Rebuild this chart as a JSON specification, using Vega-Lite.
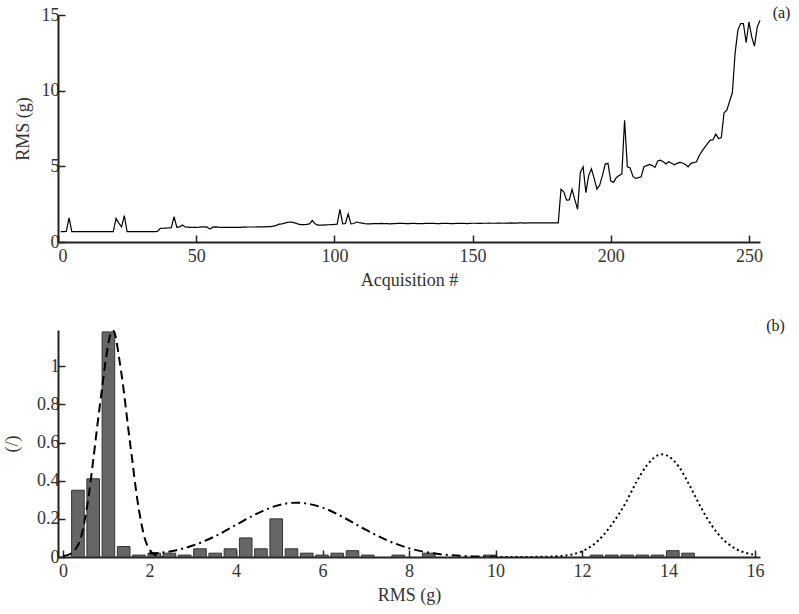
{
"$schema": "https://vega.github.io/schema/vega-lite/v6.json",
"background": "white",
"padding": {"left": 3, "top": 5, "right": 0, "bottom": 2},
"bounds": "flush",
"spacing": 88,
"config": {
  "view": {"stroke": null},
  "font": "Liberation Serif",
  "axis": {"labelFont": "Liberation Serif", "titleFont": "Liberation Serif", "labelFontSize": 18, "titleFontSize": 18, "titleFontWeight": "normal", "labelColor": "#333333", "titleColor": "#333333", "domainColor": "#222222", "domainWidth": 2, "tickColor": "#222222", "tickWidth": 1.5, "tickSize": -7, "grid": false, "labelPadding": 6, "titlePadding": 6},
  "axisX": {"labelPadding": 12}
},
"vconcat": [
{
  "width": 702, "height": 227,
  "layer": [
    {
      "data": {"values": [
{"i":1,"v":0.68},{"i":2,"v":0.68},{"i":3,"v":0.7},{"i":4,"v":1.6},{"i":5,"v":0.68},{"i":6,"v":0.68},{"i":7,"v":0.68},{"i":8,"v":0.68},{"i":9,"v":0.68},{"i":10,"v":0.68},
{"i":11,"v":0.68},{"i":12,"v":0.68},{"i":13,"v":0.68},{"i":14,"v":0.68},{"i":15,"v":0.68},{"i":16,"v":0.68},{"i":17,"v":0.68},{"i":18,"v":0.68},{"i":19,"v":0.68},{"i":20,"v":0.68},
{"i":21,"v":1.56},{"i":22,"v":1.25},{"i":23,"v":1.0},{"i":24,"v":1.74},{"i":25,"v":0.68},{"i":26,"v":0.68},{"i":27,"v":0.68},{"i":28,"v":0.68},{"i":29,"v":0.68},{"i":30,"v":0.68},
{"i":31,"v":0.68},{"i":32,"v":0.68},{"i":33,"v":0.68},{"i":34,"v":0.68},{"i":35,"v":0.68},{"i":36,"v":0.7},{"i":37,"v":0.9},{"i":38,"v":0.91},{"i":39,"v":0.92},{"i":40,"v":0.93},
{"i":41,"v":0.95},{"i":42,"v":1.67},{"i":43,"v":0.97},{"i":44,"v":1.0},{"i":45,"v":1.12},{"i":46,"v":0.99},{"i":47,"v":0.98},{"i":48,"v":0.97},{"i":49,"v":0.96},{"i":50,"v":0.97},
{"i":51,"v":0.98},{"i":52,"v":1.0},{"i":53,"v":1.0},{"i":54,"v":0.98},{"i":55,"v":0.85},{"i":56,"v":0.98},{"i":57,"v":1.0},{"i":58,"v":0.98},{"i":59,"v":0.97},{"i":60,"v":0.96},
{"i":61,"v":0.96},{"i":62,"v":0.96},{"i":63,"v":0.97},{"i":64,"v":0.97},{"i":65,"v":0.97},{"i":66,"v":0.97},{"i":67,"v":0.98},{"i":68,"v":0.98},{"i":69,"v":0.99},{"i":70,"v":0.99},
{"i":71,"v":0.99},{"i":72,"v":1.0},{"i":73,"v":1.0},{"i":74,"v":1.0},{"i":75,"v":1.0},{"i":76,"v":1.01},{"i":77,"v":1.02},{"i":78,"v":1.05},{"i":79,"v":1.1},{"i":80,"v":1.18},
{"i":81,"v":1.2},{"i":82,"v":1.25},{"i":83,"v":1.3},{"i":84,"v":1.32},{"i":85,"v":1.3},{"i":86,"v":1.25},{"i":87,"v":1.18},{"i":88,"v":1.15},{"i":89,"v":1.15},{"i":90,"v":1.16},
{"i":91,"v":1.2},{"i":92,"v":1.42},{"i":93,"v":1.2},{"i":94,"v":1.12},{"i":95,"v":1.12},{"i":96,"v":1.12},{"i":97,"v":1.13},{"i":98,"v":1.14},{"i":99,"v":1.15},{"i":100,"v":1.16},
{"i":101,"v":1.18},{"i":102,"v":2.15},{"i":103,"v":1.2},{"i":104,"v":1.22},{"i":105,"v":1.85},{"i":106,"v":1.2},{"i":107,"v":1.22},{"i":108,"v":1.32},{"i":109,"v":1.28},{"i":110,"v":1.25},
{"i":111,"v":1.22},{"i":112,"v":1.2},{"i":113,"v":1.2},{"i":114,"v":1.21},{"i":115,"v":1.22},{"i":116,"v":1.22},{"i":117,"v":1.23},{"i":118,"v":1.22},{"i":119,"v":1.21},{"i":120,"v":1.2},
{"i":121,"v":1.21},{"i":122,"v":1.22},{"i":123,"v":1.23},{"i":124,"v":1.24},{"i":125,"v":1.23},{"i":126,"v":1.22},{"i":127,"v":1.22},{"i":128,"v":1.23},{"i":129,"v":1.23},{"i":130,"v":1.22},
{"i":131,"v":1.21},{"i":132,"v":1.22},{"i":133,"v":1.23},{"i":134,"v":1.24},{"i":135,"v":1.23},{"i":136,"v":1.23},{"i":137,"v":1.22},{"i":138,"v":1.22},{"i":139,"v":1.23},{"i":140,"v":1.24},
{"i":141,"v":1.23},{"i":142,"v":1.22},{"i":143,"v":1.22},{"i":144,"v":1.23},{"i":145,"v":1.23},{"i":146,"v":1.24},{"i":147,"v":1.23},{"i":148,"v":1.22},{"i":149,"v":1.23},{"i":150,"v":1.24},
{"i":151,"v":1.24},{"i":152,"v":1.23},{"i":153,"v":1.23},{"i":154,"v":1.24},{"i":155,"v":1.24},{"i":156,"v":1.25},{"i":157,"v":1.24},{"i":158,"v":1.24},{"i":159,"v":1.25},{"i":160,"v":1.25},
{"i":161,"v":1.24},{"i":162,"v":1.25},{"i":163,"v":1.25},{"i":164,"v":1.26},{"i":165,"v":1.25},{"i":166,"v":1.25},{"i":167,"v":1.26},{"i":168,"v":1.26},{"i":169,"v":1.25},{"i":170,"v":1.26},
{"i":171,"v":1.26},{"i":172,"v":1.27},{"i":173,"v":1.26},{"i":174,"v":1.26},{"i":175,"v":1.27},{"i":176,"v":1.27},{"i":177,"v":1.26},{"i":178,"v":1.27},{"i":179,"v":1.27},{"i":180,"v":1.27},
{"i":181,"v":1.27},{"i":182,"v":3.48},{"i":183,"v":3.32},{"i":184,"v":2.77},{"i":185,"v":2.78},{"i":186,"v":3.48},{"i":187,"v":2.8},{"i":188,"v":2.16},{"i":189,"v":4.6},{"i":190,"v":4.97},
{"i":191,"v":3.26},{"i":192,"v":4.38},{"i":193,"v":4.84},{"i":194,"v":4.2},{"i":195,"v":3.5},{"i":196,"v":3.76},{"i":197,"v":4.4},{"i":198,"v":5.15},{"i":199,"v":5.2},{"i":200,"v":4.03},
{"i":201,"v":3.94},{"i":202,"v":4.25},{"i":203,"v":4.4},{"i":204,"v":4.49},{"i":205,"v":8.05},{"i":206,"v":4.97},{"i":207,"v":4.9},{"i":208,"v":4.35},{"i":209,"v":4.2},{"i":210,"v":4.25},
{"i":211,"v":4.31},{"i":212,"v":4.97},{"i":213,"v":5.05},{"i":214,"v":5.13},{"i":215,"v":5.05},{"i":216,"v":4.93},{"i":217,"v":5.35},{"i":218,"v":5.41},{"i":219,"v":5.3},{"i":220,"v":5.15},
{"i":221,"v":5.3},{"i":222,"v":5.2},{"i":223,"v":5.1},{"i":224,"v":5.2},{"i":225,"v":5.26},{"i":226,"v":5.22},{"i":227,"v":5.12},{"i":228,"v":4.97},{"i":229,"v":5.2},{"i":230,"v":5.24},
{"i":231,"v":5.3},{"i":232,"v":5.7},{"i":233,"v":6.0},{"i":234,"v":6.25},{"i":235,"v":6.5},{"i":236,"v":6.73},{"i":237,"v":6.75},{"i":238,"v":7.13},{"i":239,"v":6.84},{"i":240,"v":6.9},
{"i":241,"v":8.54},{"i":242,"v":8.71},{"i":243,"v":9.3},{"i":244,"v":9.86},{"i":245,"v":12.5},{"i":246,"v":14.0},{"i":247,"v":14.43},{"i":248,"v":14.43},{"i":249,"v":13.18},{"i":250,"v":14.54},
{"i":251,"v":13.55},{"i":252,"v":12.94},{"i":253,"v":14.2},{"i":254,"v":14.65}
      ]},
      "mark": {"type": "line", "color": "black", "strokeWidth": 1.2},
      "encoding": {
        "x": {"field": "i", "type": "quantitative", "scale": {"domain": [0, 254], "nice": false}, "axis": {"title": "Acquisition #", "values": [0, 50, 100, 150, 200, 250]}},
        "y": {"field": "v", "type": "quantitative", "scale": {"domain": [0, 15], "nice": false}, "axis": {"title": "RMS (g)", "values": [0, 5, 10, 15], "titlePadding": 9}}
      }
    },
    {
      "data": {"values": [{"x": 265, "y": 15.1, "t": "(a)"}]},
      "mark": {"type": "text", "fontSize": 16, "font": "Liberation Serif", "color": "#222222", "align": "right", "baseline": "middle"},
      "encoding": {
        "x": {"field": "x", "type": "quantitative"},
        "y": {"field": "y", "type": "quantitative"},
        "text": {"field": "t"}
      }
    }
  ]
},
{
  "width": 702, "height": 227,
  "layer": [
    {
      "data": {"values": [
{"c":0.345,"h":0.35},{"c":0.698,"h":0.41},{"c":1.05,"h":1.18},{"c":1.403,"h":0.055},{"c":1.756,"h":0.01},{"c":2.109,"h":0.02},{"c":2.461,"h":0.02},{"c":2.814,"h":0.01},
{"c":3.167,"h":0.043},{"c":3.519,"h":0.02},{"c":3.872,"h":0.043},{"c":4.225,"h":0.1},{"c":4.577,"h":0.043},{"c":4.93,"h":0.2},{"c":5.283,"h":0.043},{"c":5.636,"h":0.02},
{"c":5.988,"h":0.01},{"c":6.341,"h":0.02},{"c":6.694,"h":0.033},{"c":7.046,"h":0.01},{"c":7.752,"h":0.01},{"c":8.457,"h":0.02},{"c":9.868,"h":0.01},
{"c":12.337,"h":0.01},{"c":12.69,"h":0.01},{"c":13.042,"h":0.01},{"c":13.395,"h":0.01},{"c":13.748,"h":0.01},{"c":14.1,"h":0.033},{"c":14.453,"h":0.02}
      ]},
      "mark": {"type": "bar", "width": 12.6, "fill": "#666666", "stroke": "#333333", "strokeWidth": 1},
      "encoding": {
        "x": {"field": "c", "type": "quantitative", "scale": {"domain": [0, 16], "nice": false}, "axis": {"title": "RMS (g)", "values": [0, 2, 4, 6, 8, 10, 12, 14, 16]}},
        "y": {"field": "h", "type": "quantitative", "scale": {"domain": [0, 1.19], "nice": false}, "axis": {"title": "(/)", "values": [0, 0.2, 0.4, 0.6, 0.8, 1], "format": "~g", "titlePadding": 15}}
      }
    },
    {
      "data": {"values": [
{"s":"a","x":0.0,"v":0.005},{"s":"a","x":0.1,"v":0.01},{"s":"a","x":0.2,"v":0.02},{"s":"a","x":0.3,"v":0.045},{"s":"a","x":0.4,"v":0.09},{"s":"a","x":0.5,"v":0.19},
{"s":"a","x":0.6,"v":0.33},{"s":"a","x":0.7,"v":0.51},{"s":"a","x":0.8,"v":0.7},{"s":"a","x":0.9,"v":0.88},{"s":"a","x":1.0,"v":1.05},{"s":"a","x":1.1,"v":1.17},
{"s":"a","x":1.15,"v":1.19},{"s":"a","x":1.2,"v":1.17},{"s":"a","x":1.3,"v":1.04},{"s":"a","x":1.4,"v":0.88},{"s":"a","x":1.5,"v":0.69},{"s":"a","x":1.6,"v":0.51},
{"s":"a","x":1.7,"v":0.33},{"s":"a","x":1.8,"v":0.19},{"s":"a","x":1.9,"v":0.09},{"s":"a","x":2.0,"v":0.04},{"s":"a","x":2.1,"v":0.015},{"s":"a","x":2.2,"v":0.006},{"s":"a","x":2.3,"v":0.002},
{"s":"b","x":2.0,"v":0.018},{"s":"b","x":2.5,"v":0.03},{"s":"b","x":3.0,"v":0.06},{"s":"b","x":3.5,"v":0.107},{"s":"b","x":4.0,"v":0.168},{"s":"b","x":4.5,"v":0.229},
{"s":"b","x":5.0,"v":0.273},{"s":"b","x":5.4,"v":0.285},{"s":"b","x":6.0,"v":0.259},{"s":"b","x":6.5,"v":0.206},{"s":"b","x":7.0,"v":0.143},{"s":"b","x":7.5,"v":0.087},
{"s":"b","x":8.0,"v":0.046},{"s":"b","x":8.5,"v":0.021},{"s":"b","x":9.0,"v":0.009},{"s":"b","x":9.5,"v":0.003},{"s":"b","x":10.0,"v":0.001},
{"s":"c","x":10.0,"v":0.0},{"s":"c","x":10.5,"v":0.0},{"s":"c","x":11.0,"v":0.001},{"s":"c","x":11.5,"v":0.005},{"s":"c","x":12.0,"v":0.03},{"s":"c","x":12.25,"v":0.062},
{"s":"c","x":12.5,"v":0.116},{"s":"c","x":12.75,"v":0.19},{"s":"c","x":13.0,"v":0.28},{"s":"c","x":13.25,"v":0.39},{"s":"c","x":13.5,"v":0.48},{"s":"c","x":13.75,"v":0.533},
{"s":"c","x":13.85,"v":0.538},{"s":"c","x":14.0,"v":0.528},{"s":"c","x":14.25,"v":0.47},{"s":"c","x":14.5,"v":0.37},{"s":"c","x":14.75,"v":0.26},{"s":"c","x":15.0,"v":0.165},
{"s":"c","x":15.25,"v":0.095},{"s":"c","x":15.5,"v":0.05},{"s":"c","x":15.75,"v":0.024},{"s":"c","x":16.0,"v":0.011}
      ]},
      "mark": {"type": "line", "color": "black", "strokeWidth": 2, "interpolate": "monotone", "clip": true},
      "encoding": {
        "x": {"field": "x", "type": "quantitative"},
        "y": {"field": "v", "type": "quantitative"},
        "detail": {"field": "s", "type": "nominal"},
        "strokeDash": {"field": "s", "type": "nominal", "scale": {"domain": ["a", "b", "c"], "range": [[9, 5], [9, 4, 2, 4], [2, 3]]}, "legend": null}
      }
    },
    {
      "data": {"values": [{"x": 16.69, "y": 1.209, "t": "(b)"}]},
      "mark": {"type": "text", "fontSize": 16, "font": "Liberation Serif", "color": "#222222", "align": "right", "baseline": "middle"},
      "encoding": {
        "x": {"field": "x", "type": "quantitative"},
        "y": {"field": "y", "type": "quantitative"},
        "text": {"field": "t"}
      }
    }
  ]
}
]
}
